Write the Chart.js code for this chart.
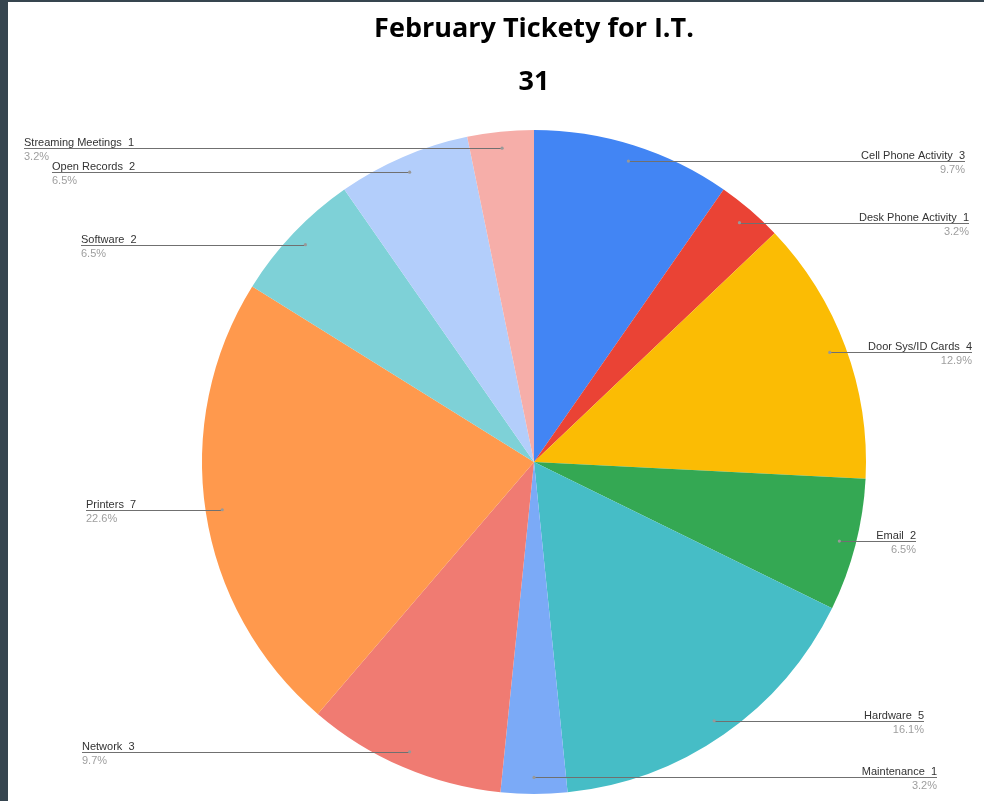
<!DOCTYPE html>
<html>
<head>
<meta charset="utf-8">
<script src="https://cdn.jsdelivr.net/npm/chart.js@4"></script>
<style>
    html, body { margin: 0; padding: 0; }
    body { background: #36454f; width: 984px; height: 801px; overflow: hidden; position: relative; }
    #wrap { position: absolute; left: 8px; top: 2px; width: 976px; height: 799px; background: #fff; }
</style>
</head>
<body>
<div id="wrap"><canvas id="ticketsChart"></canvas></div>
<script>
const categories = ['Cell Phone Activity', 'Desk Phone Activity', 'Door Sys/ID Cards', 'Email', 'Hardware',
    'Maintenance', 'Network', 'Printers', 'Software', 'Open Records', 'Streaming Meetings'];
const ticketCounts = [3, 1, 4, 2, 5, 1, 3, 7, 2, 2, 1];
const sliceColors = ['#4285f4', '#ea4335', '#fbbc04', '#34a853', '#46bdc6',
    '#7baaf7', '#f07b72', '#ff994d', '#7ed1d7', '#b3cefb', '#f6aea9'];

// where each label's text edge sits (x in canvas px)
const labelEdges = [957, 961, 964, 908, 916, 929, 74, 78, 73, 44, 16];

const totalTickets = ticketCounts.reduce((a, b) => a + b, 0);

// Google-Sheets style labels with leader lines
const leaderLabels = {
    id: 'leaderLabels',
    afterDatasetsDraw(chart) {
        const ctx = chart.ctx;
        const meta = chart.getDatasetMeta(0);
        ctx.save();
        meta.data.forEach((arc, i) => {
            const p = arc.getProps(['x', 'y', 'startAngle', 'endAngle', 'outerRadius'], true);
            const mid = (p.startAngle + p.endAngle) / 2;
            const ax = p.x + Math.cos(mid) * p.outerRadius * 0.95;
            const ay = p.y + Math.sin(mid) * p.outerRadius * 0.95;
            const edge = labelEdges[i];
            const right = edge > ax;

            ctx.strokeStyle = '#707070';
            ctx.lineWidth = 1;
            ctx.beginPath();
            ctx.moveTo(ax, Math.round(ay) + 0.5);
            ctx.lineTo(edge, Math.round(ay) + 0.5);
            ctx.stroke();

            ctx.fillStyle = '#999';
            ctx.beginPath();
            ctx.arc(ax, ay, 1.6, 0, Math.PI * 2);
            ctx.fill();

            ctx.textAlign = right ? 'right' : 'left';
            ctx.font = '11px "Liberation Sans", Arial, sans-serif';
            ctx.fillStyle = '#333';
            ctx.textBaseline = 'alphabetic';
            ctx.fillText(categories[i] + '  ' + ticketCounts[i], edge, Math.round(ay) - 2);
            ctx.fillStyle = '#9e9e9e';
            ctx.textBaseline = 'top';
            ctx.fillText((ticketCounts[i] / totalTickets * 100).toFixed(1) + '%', edge, Math.round(ay) + 3);
        });
        ctx.restore();
    }
};

new Chart(document.getElementById('ticketsChart'), {
    type: 'pie',
    data: {
        labels: categories,
        datasets: [{
            data: ticketCounts,
            backgroundColor: sliceColors,
            borderWidth: 0
        }]
    },
    options: {
        responsive: true,
        maintainAspectRatio: false,
        animation: false,
        layout: { padding: { left: 100, right: 24, top: 0, bottom: 7 } },
        plugins: {
            legend: { display: false },
            tooltip: { enabled: false },
            title: {
                display: true,
                text: ['February Tickety for I.T.', String(totalTickets)],
                color: '#000',
                font: { family: '"Open Sans", sans-serif', size: 27, weight: 'bold', lineHeight: 1.963 },
                padding: { top: 1, bottom: 21 }
            }
        }
    },
    plugins: [leaderLabels]
});
</script>
</body>
</html>
